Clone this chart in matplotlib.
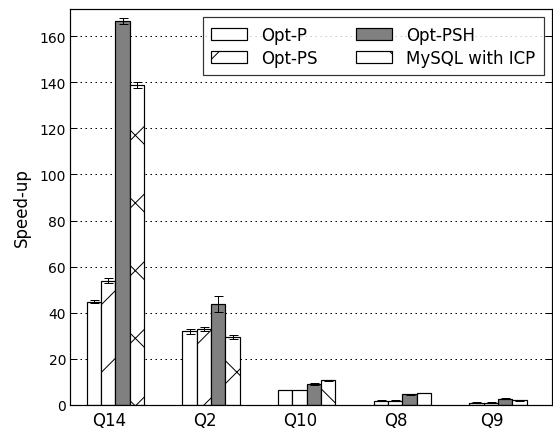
import numpy as np
import matplotlib
matplotlib.use("Agg")
import matplotlib.pyplot as plt

# rendered at a higher dpi so the hatch pattern is as sparse as in the original
DPI = 203

def px(n):
    # points for n pixels
    return n * 72.0 / DPI

def fs(p):
    # font size that looks like p pt at 100 dpi
    return p * 100.0 / DPI

queries = ["Q14", "Q2", "Q10", "Q8", "Q9"]
labels = ["Opt-P", "Opt-PS", "Opt-PSH", "MySQL with ICP"]

opt_p = [44.8, 32.0, 6.5, 1.9, 1.0]
opt_p_err = [0.6, 1.0, 0.1, 0.1, 0.1]
opt_ps = [53.9, 33.0, 6.5, 1.9, 1.0]
opt_ps_err = [1.0, 1.0, 0.1, 0.1, 0.1]
opt_psh = [166.6, 43.8, 9.1, 4.6, 2.8]
opt_psh_err = [1.5, 3.4, 0.3, 0.2, 0.3]
mysql = [138.9, 29.6, 10.7, 5.1, 2.0]
mysql_err = [1.2, 0.9, 0.1, 0.1, 0.1]

series = [opt_p, opt_ps, opt_psh, mysql]
errors = [opt_p_err, opt_ps_err, opt_psh_err, mysql_err]
colors = ["white", "white", "#808080", "white"]
hatches = ["", "/", "", "x"]

plt.rcParams["hatch.linewidth"] = px(1.0)
plt.rcParams["lines.scale_dashes"] = False

fig = plt.figure(figsize=(553.0 / DPI, 430.0 / DPI), dpi=DPI)
ax = fig.add_axes([70 / 553., 1 - 406 / 430., (552 - 70) / 553., (406 - 10) / 430.])

ind = np.arange(len(queries))
width = 0.15

for i in range(4):
    ax.bar(ind + i * width, series[i], width, align="edge",
           yerr=errors[i], color=colors[i], edgecolor="black",
           hatch=hatches[i], linewidth=px(1.2), label=labels[i],
           error_kw=dict(ecolor="black", elinewidth=px(1.0),
                         capsize=px(4.5), capthick=px(1.0)))

ax.set_xlim(-0.175, 4.865)
ax.set_ylim(0, 171.8)
ax.set_yticks(np.arange(0, 161, 20))
ax.set_xticks(ind + 0.235)
ax.set_xticklabels(queries, fontsize=fs(12))
ax.set_ylabel("Speed-up", fontsize=fs(12), labelpad=px(9))

ax.tick_params(axis="y", direction="in", length=px(7), width=px(1),
               labelsize=fs(10), pad=px(4), right=True)
ax.tick_params(axis="x", length=0, pad=px(6))

ax.set_axisbelow(True)
ax.yaxis.grid(True, color="black", linewidth=px(1.0),
              linestyle=(0, (px(1.5), px(3.5))))

for sp in ax.spines.values():
    sp.set_linewidth(px(1.2))

leg = ax.legend(loc="upper right", ncol=2, fontsize=fs(12), fancybox=False,
                handlelength=2.15, handleheight=0.7, handletextpad=0.85,
                columnspacing=2.3, labelspacing=0.3, borderaxespad=0.5,
                borderpad=0.5)
leg.get_frame().set_edgecolor("black")
leg.get_frame().set_linewidth(px(1.2))

fig.savefig("out.png", dpi=DPI)
